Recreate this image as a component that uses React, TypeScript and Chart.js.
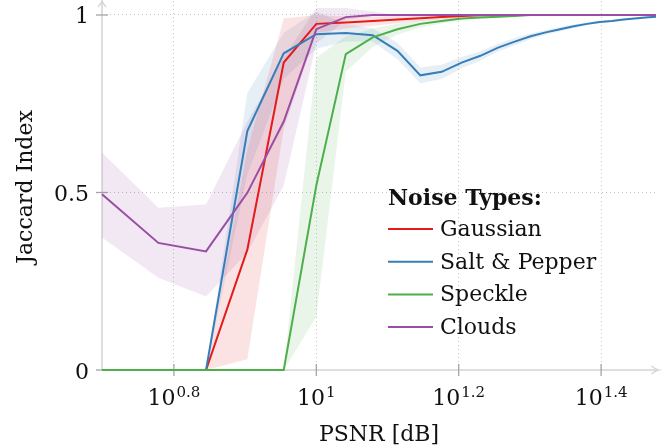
import React, { useEffect, useRef } from 'react';
import { Chart, registerables } from 'chart.js';

Chart.register(...registerables);

// ---------- data ----------
const psnr = [5, 6, 7, 8, 9, 10, 11, 12, 13, 14, 15, 16, 17, 18, 19, 20, 21, 22, 23, 24, 25, 26, 27, 28, 29, 30];

const xTickExponents = [0.8, 1, 1.2, 1.4];
const yTickValues = [0, 0.5, 1];
const yTickLabels = ['0', '0.5', '1'];

const seriesNames = ['Gaussian', 'Salt & Pepper', 'Speckle', 'Clouds'];

const gaussian = [0, 0, 0, 0.339, 0.866, 0.975, 0.979, 0.983, 0.987, 0.991, 0.994, 0.997, 0.999, 1, 1, 1, 1, 1, 1, 1, 1, 1, 1, 1, 1, 1];
const gaussianLow = [0, 0, 0, 0.03, 0.68, 0.95, 0.962, 0.97, 0.977, 0.983, 0.988, 0.993, 0.997, 1, 1, 1, 1, 1, 1, 1, 1, 1, 1, 1, 1, 1];
const gaussianHigh = [0, 0, 0, 0.62, 0.99, 1.0, 0.996, 0.996, 0.997, 0.998, 0.999, 1, 1, 1, 1, 1, 1, 1, 1, 1, 1, 1, 1, 1, 1, 1];

const saltPepper = [0, 0, 0, 0.673, 0.892, 0.946, 0.949, 0.943, 0.899, 0.83, 0.84, 0.866, 0.885, 0.908, 0.925, 0.94, 0.951, 0.96, 0.968, 0.975, 0.98, 0.983, 0.987, 0.99, 0.993, 0.995];
const saltPepperLow = [0, 0, 0, 0.55, 0.82, 0.905, 0.925, 0.925, 0.875, 0.808, 0.82, 0.85, 0.872, 0.897, 0.915, 0.932, 0.944, 0.954, 0.963, 0.971, 0.977, 0.98, 0.984, 0.988, 0.991, 0.993];
const saltPepperHigh = [0, 0, 0, 0.78, 0.95, 1.01, 0.975, 0.962, 0.922, 0.852, 0.86, 0.882, 0.898, 0.919, 0.935, 0.948, 0.958, 0.966, 0.973, 0.979, 0.983, 0.986, 0.99, 0.992, 0.995, 0.997];

const speckle = [0, 0, 0, 0, 0, 0.52, 0.89, 0.937, 0.96, 0.975, 0.983, 0.99, 0.993, 0.995, 0.997, 1, 1, 1, 1, 1, 1, 1, 1, 1, 1, 1];
const speckleLow = [0, 0, 0, 0, 0, 0.15, 0.84, 0.91, 0.945, 0.965, 0.976, 0.985, 0.99, 0.993, 0.996, 1, 1, 1, 1, 1, 1, 1, 1, 1, 1, 1];
const speckleHigh = [0, 0, 0, 0, 0, 0.88, 0.94, 0.962, 0.975, 0.985, 0.99, 0.995, 0.997, 0.998, 0.999, 1, 1, 1, 1, 1, 1, 1, 1, 1, 1, 1];

const clouds = [0.495, 0.358, 0.334, 0.499, 0.7, 0.96, 0.994, 1, 1, 1, 1, 1, 1, 1, 1, 1, 1, 1, 1, 1, 1, 1, 1, 1, 1, 1];
const cloudsLow = [0.373, 0.26, 0.207, 0.33, 0.52, 0.92, 0.985, 0.997, 1, 1, 1, 1, 1, 1, 1, 1, 1, 1, 1, 1, 1, 1, 1, 1, 1, 1];
const cloudsHigh = [0.613, 0.457, 0.466, 0.7, 0.88, 1.02, 1.02, 1.01, 1.0, 1, 1, 1, 1, 1, 1, 1, 1, 1, 1, 1, 1, 1, 1, 1, 1, 1];

const seriesColors = ['#e41a1c', '#377eb8', '#4daf4a', '#984ea3'];
const bandColors = ['rgba(228,26,28,0.12)', 'rgba(55,126,184,0.12)', 'rgba(77,175,74,0.12)', 'rgba(152,78,163,0.13)'];

const FONT = '"DejaVu Serif", "Liberation Serif", serif';

const decorPlugin = {
  id: 'decor',
  beforeDatasetsDraw(chart: any) {
    const { ctx, chartArea: a, scales } = chart;
    const xs = scales.x;
    const ys = scales.y;
    const y0 = ys.getPixelForValue(0);
    const left = a.left;
    ctx.save();
    ctx.strokeStyle = '#d6d6d6';
    ctx.lineWidth = 1.6;
    ctx.beginPath();
    ctx.moveTo(left, y0);
    ctx.lineTo(left, 1);
    ctx.stroke();
    ctx.beginPath();
    ctx.moveTo(left, y0);
    ctx.lineTo(a.right + 2, y0);
    ctx.stroke();
    // arrow heads
    ctx.lineWidth = 1.3;
    ctx.beginPath();
    ctx.moveTo(left - 4, 7);
    ctx.quadraticCurveTo(left - 0.5, 3, left, 0.5);
    ctx.quadraticCurveTo(left + 0.5, 3, left + 4, 7);
    ctx.stroke();
    const tipX = a.right + 2.5;
    ctx.beginPath();
    ctx.moveTo(tipX - 7, y0 - 4);
    ctx.quadraticCurveTo(tipX - 3, y0 - 0.5, tipX, y0);
    ctx.quadraticCurveTo(tipX - 3, y0 + 0.5, tipX - 7, y0 + 4);
    ctx.stroke();
    // tick marks
    ctx.strokeStyle = '#a5a5a5';
    ctx.lineWidth = 1.3;
    yTickValues.forEach((v) => {
      const py = ys.getPixelForValue(v);
      ctx.beginPath();
      ctx.moveTo(left - 6, py);
      ctx.lineTo(left + 6, py);
      ctx.stroke();
    });
    xTickExponents.forEach((e) => {
      const px = xs.getPixelForValue(Math.pow(10, e));
      ctx.beginPath();
      ctx.moveTo(px, y0 - 6);
      ctx.lineTo(px, y0 + 6);
      ctx.stroke();
    });
    ctx.restore();
  },
  afterDraw(chart: any) {
    const { ctx, chartArea: a, scales } = chart;
    const xs = scales.x;
    const ys = scales.y;
    const y0 = ys.getPixelForValue(0);
    ctx.save();
    ctx.fillStyle = '#111';
    ctx.textBaseline = 'alphabetic';

    // y tick labels
    ctx.font = `22px ${FONT}`;
    ctx.textAlign = 'right';
    yTickValues.forEach((v, i) => {
      const py = ys.getPixelForValue(v);
      ctx.fillText(yTickLabels[i], a.left - 13, py + 8.5);
    });

    // x tick labels 10^e
    ctx.textAlign = 'left';
    xTickExponents.forEach((e) => {
      const px = xs.getPixelForValue(Math.pow(10, e));
      const base = '10';
      const exp = String(e);
      ctx.font = `22px ${FONT}`;
      const wb = ctx.measureText(base).width;
      ctx.font = `15px ${FONT}`;
      const we = ctx.measureText(exp).width;
      const start = px - (wb + we + 1) / 2;
      ctx.font = `22px ${FONT}`;
      ctx.fillText(base, start, y0 + 35);
      ctx.font = `15px ${FONT}`;
      ctx.fillText(exp, start + wb + 1, y0 + 27);
    });

    // axis titles
    ctx.font = `22px ${FONT}`;
    ctx.textAlign = 'center';
    ctx.fillText('PSNR [dB]', (a.left + a.right) / 2, 441);
    ctx.save();
    ctx.translate(32, 187);
    ctx.rotate(-Math.PI / 2);
    ctx.fillText('Jaccard Index', 0, 0);
    ctx.restore();

    // legend
    ctx.textAlign = 'left';
    ctx.font = `bold 22px ${FONT}`;
    ctx.fillText('Noise Types:', 388, 204.5);
    ctx.font = `22px ${FONT}`;
    seriesNames.forEach((name, i) => {
      const base = 236 + i * 32.7;
      ctx.strokeStyle = seriesColors[i];
      ctx.lineWidth = 2;
      ctx.beginPath();
      ctx.moveTo(388, base - 7);
      ctx.lineTo(433, base - 7);
      ctx.stroke();
      ctx.fillText(name, 440, base);
    });
    ctx.restore();
  },
};

export default function App() {
  const canvasRef = useRef<HTMLCanvasElement | null>(null);

  useEffect(() => {
    if (!canvasRef.current) return;
    const means = [gaussian, saltPepper, speckle, clouds];
    const lows = [gaussianLow, saltPepperLow, speckleLow, cloudsLow];
    const highs = [gaussianHigh, saltPepperHigh, speckleHigh, cloudsHigh];

    const datasets: any[] = [];
    means.forEach((m, i) => {
      datasets.push({
        label: seriesNames[i],
        data: psnr.map((x, j) => ({ x, y: m[j] })),
        borderColor: seriesColors[i],
        backgroundColor: seriesColors[i],
        borderWidth: 2,
        pointRadius: 0,
        tension: 0,
        fill: false,
        order: 4 - i,
        clip: false,
      });
    });
    means.forEach((_, i) => {
      datasets.push({
        label: seriesNames[i] + ' upper',
        data: psnr.map((x, j) => ({ x, y: highs[i][j] })),
        borderColor: 'rgba(0,0,0,0)',
        backgroundColor: bandColors[i],
        borderWidth: 0,
        pointRadius: 0,
        tension: 0,
        fill: '+1',
        order: 10,
      });
      datasets.push({
        label: seriesNames[i] + ' lower',
        data: psnr.map((x, j) => ({ x, y: lows[i][j] })),
        borderColor: 'rgba(0,0,0,0)',
        backgroundColor: 'rgba(0,0,0,0)',
        borderWidth: 0,
        pointRadius: 0,
        tension: 0,
        fill: false,
        order: 10,
      });
    });

    const chart = new Chart(canvasRef.current, {
      type: 'line',
      data: { datasets },
      plugins: [decorPlugin],
      options: {
        animation: false,
        responsive: false,
        devicePixelRatio: 1,
        events: [],
        layout: { padding: { top: 1, right: 10, left: 0, bottom: 0 } },
        plugins: {
          legend: { display: false },
          tooltip: { enabled: false },
        },
        scales: {
          x: {
            type: 'logarithmic',
            min: 5,
            max: 30,
            ticks: { display: false },
            grid: { color: '#c4c4c4', lineWidth: 1, drawTicks: false },
            border: { display: false, dash: [1, 3] },
            afterBuildTicks: (scale: any) => {
              scale.ticks = xTickExponents.map((e) => ({ value: Math.pow(10, e) }));
            },
            afterFit: (scale: any) => {
              scale.height = 78;
            },
          },
          y: {
            type: 'linear',
            min: 0,
            max: 1.0394,
            ticks: { display: false },
            grid: { color: '#c4c4c4', lineWidth: 1, drawTicks: false },
            border: { display: false, dash: [1, 3] },
            afterBuildTicks: (scale: any) => {
              scale.ticks = yTickValues.map((v) => ({ value: v }));
            },
            afterFit: (scale: any) => {
              scale.width = 102;
            },
          },
        },
      } as any,
    });
    return () => chart.destroy();
  }, []);

  return (
    <div style={{ position: 'fixed', left: 0, top: 0, width: 666, height: 448, background: '#fff' }}>
      <canvas ref={canvasRef} width={666} height={448} style={{ display: 'block', width: 666, height: 448 }} />
    </div>
  );
}
